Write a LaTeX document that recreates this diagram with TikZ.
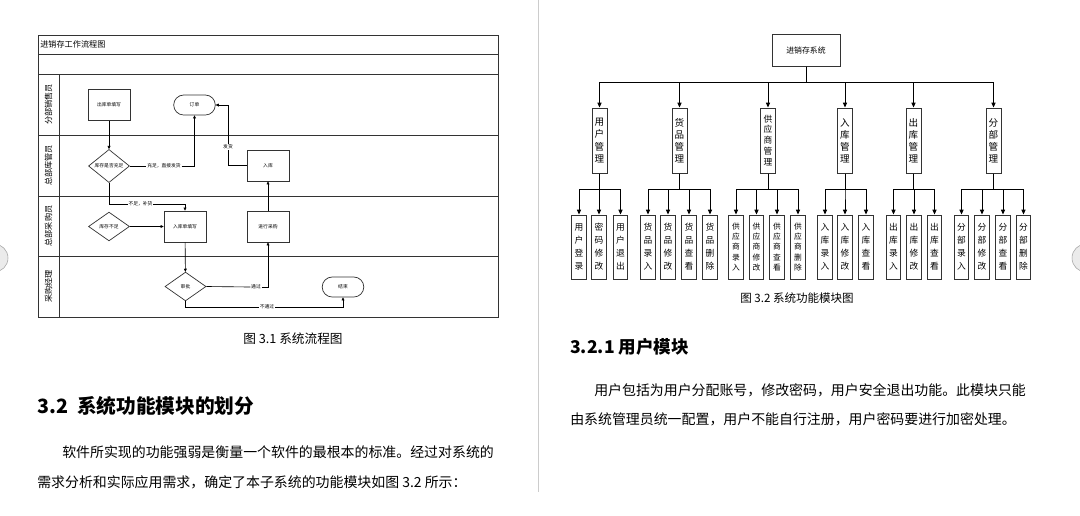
\documentclass[tikz,border=0pt]{standalone}
\usepackage{fontspec}
\setmainfont{Noto Sans CJK SC}
\usetikzlibrary{arrows.meta,calc,positioning,shapes.geometric}

\tikzset{
  lane/.style={font=\fontsize{5.8}{6}\selectfont,rotate=90,inner sep=0pt},
  fbox/.style={draw=black!80,line width=.5pt,minimum width=10.5mm,minimum height=7.75mm,inner sep=0pt,font=\fontsize{3.4}{4}\selectfont},
  fdia/.style={draw=black!80,line width=.5pt,diamond,minimum width=10.25mm,minimum height=7.2mm,inner sep=0pt,font=\fontsize{3.4}{4}\selectfont},
  fend/.style={draw=black!80,line width=.5pt,rounded corners=2.5mm,minimum width=10.4mm,minimum height=5mm,inner sep=0pt,font=\fontsize{3.4}{4}\selectfont},
  flab/.style={inner sep=.4pt,font=\fontsize{3.4}{4}\selectfont},
  farr/.style={-{Triangle[length=2.2pt,width=2pt]},line width=.45pt},
  mbox/.style={draw=black!80,line width=.7pt,minimum width=3.75mm,minimum height=16.25mm,inner sep=0pt,align=center,font=\fontsize{6.8}{8.6}\selectfont},
  sbox/.style={mbox,minimum width=3.6mm,minimum height=16mm,font=\fontsize{6.2}{9.2}\selectfont},
  sbox5/.style={sbox,font=\fontsize{5.5}{7.4}\selectfont},
  tarr/.style={-{Triangle[length=3.5pt,width=3pt]},line width=.6pt},
  body/.style={anchor=west,inner sep=0pt,font=\fontsize{9.9}{12}\selectfont},
}

\begin{document}
\begin{tikzpicture}[x=0.025cm,y=-0.025cm]
  \useasboundingbox (0,0) rectangle (1080,515);
  \fill[white] (0,0) rectangle (1080,515);
  % page divider and side buttons
  \draw[black!20,line width=.5pt] (538,0) -- (538,492);
  \draw[black!35,fill=black!8] (-6,258) circle (14);
  \draw[black!35,fill=black!8] (1086,258) circle (14);

  % ---- left page: flow chart frame
  \draw[black!80,line width=.7pt] (38,35) rectangle (498,317);
  \foreach \yy in {54,74,135,196,256}
    \draw[black!80,line width=.6pt] (38,\yy) -- (498,\yy);
  \draw[black!80,line width=.6pt] (59,74) -- (59,317);
  \node[anchor=west,inner sep=0pt,font=\fontsize{5.8}{6}\selectfont] (ttl) at (40,44) {进销存工作流程图};
  \node[lane] (lane1) at (48.5,104.5) {分部销售员};
  \node[lane] (lane2) at (48.5,165.5) {总部库管员};
  \node[lane] (lane3) at (48.5,226) {总部采购员};
  \node[lane] (lane4) at (48.5,286.5) {采购经理};

  \node[fbox] (ckd) at (109,105) {出库单填写};
  \node[fend] (dd) at (194.5,105) {订单};
  \node[fdia] (kcsf) at (109,166) {库存是否充足};
  \node[fbox] (rku) at (268,165.5) {入库};
  \node[fdia] (kcbz) at (109,226.5) {库存不足};
  \node[fbox] (rkd) at (185,226.5) {入库单填写};
  \node[fbox] (jxcg) at (268,226.5) {进行采购};
  \node[fdia] (sp) at (185.5,286.5) {审批};
  \node[fend] (js) at (343,287) {结束};

  \node[flab] (l1) at (164,166) {充足，直接发货};
  \node[flab] (l2) at (228,147) {发货};
  \node[flab] (l3) at (140.5,204) {不足，补货};
  \node[flab] (l4) at (256,287) {通过};
  \node[flab] (l5) at (267,307) {不通过};

  \draw[farr] (ckd) -- (kcsf);
  \draw[line width=.45pt] (kcsf.east) -- (l1.west);
  \draw[farr] (l1.east) -| (dd.south);
  \draw[line width=.45pt] (rku.west) -| (l2.south);
  \draw[farr] (l2.north) |- (dd.east);
  \draw[line width=.45pt] (kcsf.south) |- (l3.west);
  \draw[farr] (l3.east) -| (rkd.north);
  \draw[farr] (kcbz) -- (rkd);
  \draw[farr] (jxcg) -- (rku);
  \draw[farr] (rkd) -- (sp);
  \draw[line width=.45pt] (sp.east) -- (l4.west);
  \draw[farr] (l4.east) -| (jxcg.south);
  \draw[line width=.45pt] (sp.south) |- (l5.west);
  \draw[farr] (l5.east) -| (js.south);

  \node[font=\fontsize{9}{10}\selectfont] (cap1) at (293,339) {图 3.1 系统流程图};
  \node[anchor=west,inner sep=0pt,font=\fontsize{14}{16}\selectfont\bfseries] (h32) at (37,406) {3.2\hspace{.45em}系统功能模块的划分};
  \node[body] (p1a) at (62,452) {软件所实现的功能强弱是衡量一个软件的最根本的标准。经过对系统的};
  \node[body] (p1b) at (37,482) {需求分析和实际应用需求，确定了本子系统的功能模块如图 3.2 所示：};

  % ---- right page: module tree
  \node[draw=black!80,line width=.7pt,minimum width=17mm,minimum height=8mm,inner sep=0pt,font=\fontsize{5.6}{6}\selectfont] (root) at (806,50) {进销存系统};

  \node[mbox] (yhgl) at (599.5,140.5) {用\\户\\管\\理};
  \node[mbox] (hpgl) at (679.5,140.5) {货\\品\\管\\理};
  \node[mbox,font=\fontsize{6.2}{7.8}\selectfont] (gysgl) at (768,140.5) {供\\应\\商\\管\\理};
  \node[mbox] (rkgl) at (845,140.5) {入\\库\\管\\理};
  \node[mbox] (ckgl) at (913.5,140.5) {出\\库\\管\\理};
  \node[mbox] (fbgl) at (993.5,140.5) {分\\部\\管\\理};

  \foreach \m in {yhgl,hpgl,gysgl,rkgl,ckgl,fbgl}
    \draw[tarr] (root.south) -- ++(0,16) -| (\m.north);

  \node[sbox] (yh1) at (579,247) {用\\户\\登\\录};
  \node[sbox] (yh2) at (599,247) {密\\码\\修\\改};
  \node[sbox] (yh3) at (620.5,247) {用\\户\\退\\出};
  \node[sbox] (hp1) at (648,247) {货\\品\\录\\入};
  \node[sbox] (hp2) at (668,247) {货\\品\\修\\改};
  \node[sbox] (hp3) at (689,247) {货\\品\\查\\看};
  \node[sbox] (hp4) at (710,247) {货\\品\\删\\除};
  \node[sbox5] (gy1) at (736,247) {供\\应\\商\\录\\入};
  \node[sbox5] (gy2) at (756.5,247) {供\\应\\商\\修\\改};
  \node[sbox5] (gy3) at (777,247) {供\\应\\商\\查\\看};
  \node[sbox5] (gy4) at (798,247) {供\\应\\商\\删\\除};
  \node[sbox] (rk1) at (825,247) {入\\库\\录\\入};
  \node[sbox] (rk2) at (845,247) {入\\库\\修\\改};
  \node[sbox] (rk3) at (866,247) {入\\库\\查\\看};
  \node[sbox] (ck1) at (893.5,247) {出\\库\\录\\入};
  \node[sbox] (ck2) at (914,247) {出\\库\\修\\改};
  \node[sbox] (ck3) at (934.5,247) {出\\库\\查\\看};
  \node[sbox] (fb1) at (961.5,247) {分\\部\\录\\入};
  \node[sbox] (fb2) at (982,247) {分\\部\\修\\改};
  \node[sbox] (fb3) at (1003,247) {分\\部\\查\\看};
  \node[sbox] (fb4) at (1023.5,247) {分\\部\\删\\除};

  \foreach \p/\c in {yhgl/yh1,yhgl/yh2,yhgl/yh3,hpgl/hp1,hpgl/hp2,hpgl/hp3,hpgl/hp4,
      gysgl/gy1,gysgl/gy2,gysgl/gy3,gysgl/gy4,rkgl/rk1,rkgl/rk2,rkgl/rk3,
      ckgl/ck1,ckgl/ck2,ckgl/ck3,fbgl/fb1,fbgl/fb2,fbgl/fb3,fbgl/fb4}
    \draw[tarr] (\p.south) -- ++(0,16) -| (\c.north);

  \node[font=\fontsize{8.2}{9}\selectfont] (cap2) at (797,298) {图 3.2 系统功能模块图};
  \node[anchor=west,inner sep=0pt,font=\fontsize{12.5}{14}\selectfont\bfseries] (h321) at (570,347) {3.2.1 用户模块};
  \node[body] (p2a) at (594,390) {用户包括为用户分配账号，修改密码，用户安全退出功能。此模块只能};
  \node[body] (p2b) at (570,419) {由系统管理员统一配置，用户不能自行注册，用户密码要进行加密处理。};
\end{tikzpicture}
\end{document}
